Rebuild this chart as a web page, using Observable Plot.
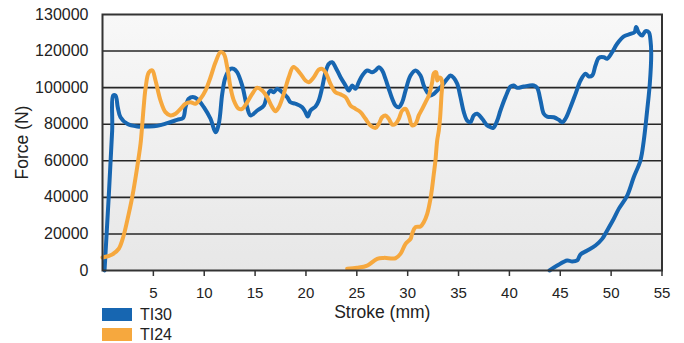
<!DOCTYPE html>
<html>
<head>
<meta charset="utf-8">
<script src="https://cdn.jsdelivr.net/npm/d3@7"></script>
<script src="https://cdn.jsdelivr.net/npm/@observablehq/plot@0.6"></script>
<style>
  html, body { margin: 0; padding: 0; background: #ffffff; }
  #wrap { position: relative; width: 684px; height: 343px; overflow: hidden; font-family: "Liberation Sans", Arial, sans-serif; }
  #legend { position: absolute; left: 102px; top: 304.5px; }
  .item { display: flex; align-items: center; height: 20px; line-height: 20px; font-size: 16px; color: #222; }
  .sw { width: 30px; height: 12.5px; margin-right: 8px; }
</style>
</head>
<body>
<div id="wrap"><div id="legend"></div></div>
<script>
// Series names and colours
const seriesNames = ["TI30", "TI24"];
const seriesColors = ["#1766b1", "#f6a83e"];

// TI30: stroke (mm)
const ti30Stroke = [0.20, 0.95, 1.05, 1.28, 1.50, 1.77, 2.43, 3.41, 4.39, 5.38, 6.36, 7.34, 7.93, 8.16, 8.48, 8.97, 9.47, 9.96, 10.62, 11.11, 11.43, 11.77, 12.09, 12.58, 12.91, 13.24, 13.73, 14.22, 14.55, 15.21, 15.86, 16.19, 16.51, 16.84, 17.17, 17.66, 18.16, 18.48, 18.97, 19.63, 19.95, 20.18, 20.45, 20.94, 21.26, 21.60, 21.92, 22.25, 22.58, 22.90, 23.40, 23.89, 24.21, 24.55, 24.87, 25.19, 25.53, 26.02, 26.51, 26.84, 27.16, 27.49, 27.82, 28.14, 28.48, 28.80, 29.13, 29.46, 29.79, 30.28, 30.77, 31.26, 31.58, 31.92, 32.24, 32.57, 32.90, 33.39, 33.88, 34.21, 34.53, 34.87, 35.19, 35.52, 35.85, 36.17, 36.50, 36.83, 37.32, 37.82, 38.14, 38.41, 38.80, 39.12, 39.61, 40.11, 40.43, 40.77, 41.41, 42.40, 42.73, 43.06, 43.38, 43.71, 44.36, 44.85, 45.19, 45.51, 46.00, 46.50, 46.99, 47.48, 47.80, 48.14, 48.46, 48.79, 49.28, 49.61, 50.10, 50.59, 51.25, 51.90, 52.30, 52.46, 52.72, 53.05, 53.38, 53.70, 53.87, 53.94, 53.80, 53.54, 53.21, 52.88, 52.22, 51.58, 50.75, 50.26, 49.61, 49.12, 48.46, 47.65, 46.99, 46.66, 46.17, 45.68, 44.70, 43.94];
// TI30: force (N)
const ti30Force = [0, 76500, 95700, 95700, 89300, 83800, 80200, 78750, 78750, 79100, 80600, 82400, 83500, 89300, 93900, 94800, 93000, 89300, 83000, 75600, 80200, 96600, 105700, 110300, 110300, 108400, 101200, 89300, 84800, 87500, 90200, 95700, 98400, 97500, 99400, 97500, 94800, 92000, 91200, 89300, 86600, 84200, 87500, 89700, 93000, 100200, 108400, 113000, 113900, 111200, 105700, 101200, 98400, 101200, 99400, 103000, 106600, 109400, 108400, 109400, 111200, 109400, 104800, 99400, 93900, 90200, 89300, 92000, 98400, 106600, 109400, 106600, 101200, 97500, 95700, 96600, 98400, 101200, 104800, 106600, 105400, 102100, 94800, 86600, 82000, 81100, 84800, 85700, 83000, 79300, 78400, 78000, 82000, 87500, 94800, 100600, 101200, 99900, 100600, 101200, 99900, 93000, 85700, 84200, 83800, 82400, 81100, 83000, 89300, 96600, 103900, 107600, 106100, 106600, 112100, 116300, 116600, 115800, 119400, 124000, 128000, 129400, 130300, 133100, 130000, 128500, 130900, 130300, 125800, 118500, 102100, 87500, 71100, 60200, 51000, 41000, 33700, 28300, 21900, 17300, 13700, 10900, 8750, 5500, 4900, 5500, 2700, 0];

// TI24: stroke (mm)
const ti24Stroke = [0.00, 0.95, 1.60, 2.03, 2.43, 2.92, 3.41, 3.74, 3.90, 4.06, 4.23, 4.55, 4.89, 5.21, 5.70, 6.19, 6.68, 7.18, 7.67, 8.16, 8.65, 9.14, 9.63, 10.12, 10.62, 11.11, 11.60, 11.92, 12.26, 12.58, 12.91, 13.40, 13.73, 14.22, 14.72, 15.21, 15.70, 16.19, 16.68, 17.01, 17.33, 17.82, 18.31, 18.77, 19.46, 19.95, 20.28, 20.77, 21.26, 21.60, 21.92, 22.41, 22.90, 23.40, 23.89, 24.38, 24.87, 25.36, 25.85, 26.34, 26.84, 27.16, 27.49, 27.82, 28.14, 28.48, 28.80, 29.13, 29.46, 29.79, 30.11, 30.44, 30.77, 31.09, 31.43, 31.75, 32.08, 32.41, 32.57, 32.80, 32.90, 33.06, 33.23, 33.39, 33.32, 33.18, 33.06, 32.90, 32.73, 32.57, 32.41, 32.24, 31.92, 31.58, 31.26, 30.77, 30.44, 30.28, 29.79, 29.29, 28.80, 27.65, 27.00, 26.02, 25.04, 24.05];
// TI24: force (N)
const ti24Force = [7100, 8750, 11900, 18200, 27300, 40100, 56500, 69300, 79300, 90200, 99500, 108300, 109400, 103900, 93000, 86600, 84800, 85700, 88400, 91200, 92000, 91200, 93900, 98400, 105700, 113900, 119400, 118500, 111200, 100200, 93000, 88400, 88400, 92000, 96600, 99900, 98400, 94800, 89300, 87100, 89300, 96600, 105700, 111300, 107600, 103900, 103000, 105700, 109800, 110300, 108400, 102100, 97500, 96300, 94800, 90200, 88400, 86600, 83000, 79300, 78000, 80200, 83800, 84800, 83000, 79800, 80200, 83000, 87500, 88400, 84800, 79300, 80200, 84800, 88400, 92000, 95700, 103000, 107900, 108400, 103900, 105400, 105400, 103000, 95700, 83100, 76600, 71100, 60200, 52900, 45600, 39200, 31000, 26400, 24100, 23700, 20100, 17300, 14600, 9100, 6700, 6900, 6400, 2700, 1500, 1000];

// Axes
const xTicks = [5, 10, 15, 20, 25, 30, 35, 40, 45, 50, 55];
const yTicks = [0, 20000, 40000, 60000, 80000, 100000, 120000, 140000];
const yTickLabels = ["0", "20000", "40000", "60000", "80000", "100000", "120000", "130000"];
const gridValues = [20000, 40000, 60000, 80000, 100000, 120000];
const xTitle = "Stroke (mm)";
const yTitle = "Force (N)";

const ti30 = ti30Stroke.map((s, i) => ({stroke: s, force: ti30Force[i]}));
const ti24 = ti24Stroke.map((s, i) => ({stroke: s, force: ti24Force[i]}));

const defsMark = () => {
  const g = d3.create("svg:g");
  const grad = g.append("defs").append("linearGradient")
    .attr("id", "bgGrad").attr("x1", 0).attr("y1", 0).attr("x2", 0).attr("y2", 1);
  grad.append("stop").attr("offset", "0%").attr("stop-color", "#f8f8f8");
  grad.append("stop").attr("offset", "100%").attr("stop-color", "#e7e7e7");
  return g.node();
};

const fontFam = '"Liberation Sans", Arial, sans-serif';

const chart = Plot.plot({
  width: 684,
  height: 343,
  marginLeft: 102,
  marginRight: 22.5,
  marginTop: 14,
  marginBottom: 73,
  style: {fontFamily: fontFam, color: "#222", background: "transparent"},
  x: {domain: [0, 55]},
  y: {domain: [0, 140000]},
  marks: [
    defsMark,
    Plot.frame({fill: "url(#bgGrad)", stroke: null}),
    Plot.gridY(gridValues, {stroke: "#262626", strokeOpacity: 1, strokeWidth: 1.6}),
    Plot.line(ti30, {x: "stroke", y: "force", stroke: seriesColors[0], strokeWidth: 4, curve: "catmull-rom", strokeLinejoin: "round", strokeLinecap: "round"}),
    Plot.line(ti24, {x: "stroke", y: "force", stroke: seriesColors[1], strokeWidth: 4, curve: "catmull-rom", strokeLinejoin: "round", strokeLinecap: "round"}),
    Plot.frame({stroke: "#333", strokeWidth: 2}),
    Plot.axisX({ticks: xTicks, tickSize: 6, tickPadding: 10.5, tickFormat: d => String(d), label: null, fontSize: 15, stroke: "#333", strokeWidth: 1.5}),
    Plot.axisY({ticks: yTicks, tickSize: 0, tickPadding: 14, tickFormat: d => yTickLabels[yTicks.indexOf(d)], label: null, fontSize: 16}),
    Plot.text([yTitle], {frameAnchor: "left", rotate: -90, dx: -80, fontSize: 17.5, textAnchor: "middle", fill: "#222"}),
    Plot.text([xTitle], {frameAnchor: "bottom", dy: 47.5, fontSize: 17.5, textAnchor: "middle", fill: "#222"})
  ]
});

const wrap = document.getElementById("wrap");
wrap.insertBefore(chart, wrap.firstChild);

const legend = document.getElementById("legend");
seriesNames.forEach((name, i) => {
  const item = document.createElement("div");
  item.className = "item";
  const sw = document.createElement("div");
  sw.className = "sw";
  sw.style.background = seriesColors[i];
  const label = document.createElement("span");
  label.textContent = name;
  item.appendChild(sw);
  item.appendChild(label);
  legend.appendChild(item);
});
</script>
</body>
</html>
